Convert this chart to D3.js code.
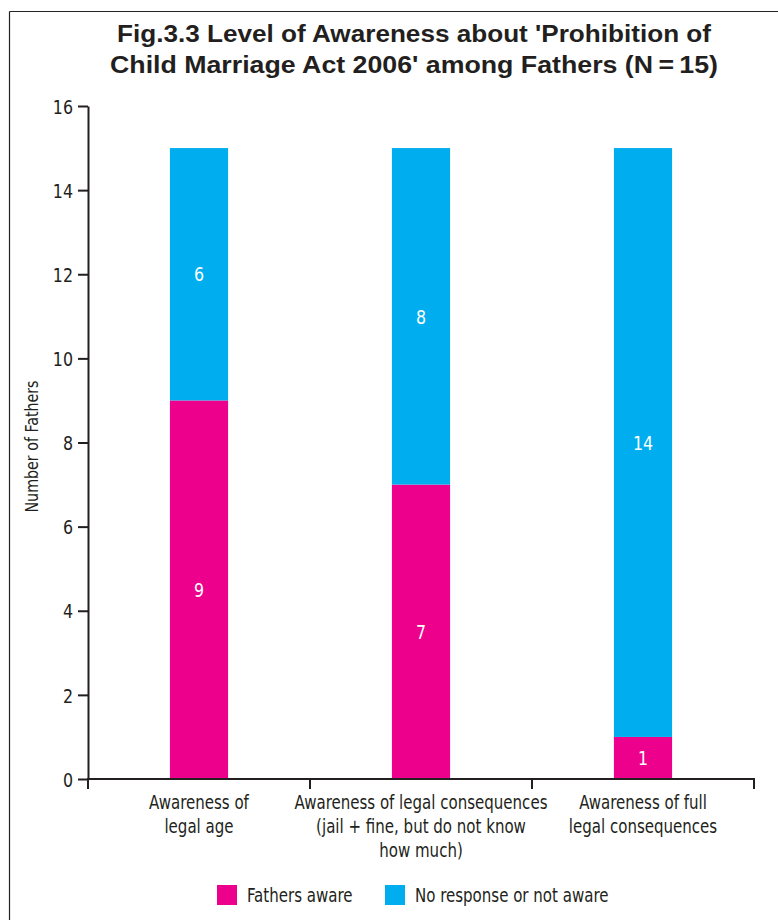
<!DOCTYPE html>
<html>
<head>
<meta charset="utf-8">
<script src="https://cdn.jsdelivr.net/npm/d3@7"></script>
<style>
  html, body { margin: 0; padding: 0; background: #fff; }
  svg { display: block; }
</style>
</head>
<body>
<svg id="chart" width="778" height="920"></svg>
<script>
const titleLines = ["Fig.3.3 Level of Awareness about 'Prohibition of", "Child Marriage Act 2006' among Fathers (N\u2009=\u200915)"];
const categories = ["legal_age", "legal_cons", "full_cons"];
const categoryLabels = [
  ["Awareness of", "legal age"],
  ["Awareness of legal consequences", "(jail + fine, but do not know", "how much)"],
  ["Awareness of full", "legal consequences"]
];
const seriesNames = ["Fathers aware", "No response or not aware"];
const fathersAware = [9, 7, 1];
const notAware = [6, 8, 14];
const yTicks = [0, 2, 4, 6, 8, 10, 12, 14, 16];
const yLabel = "Number of Fathers";
const colors = ["#EC008C", "#00AEEF"];

const NARROW = "'DejaVu Sans Condensed', 'Liberation Sans Narrow', Roboto, sans-serif";
const SX = 0.88;
const INK = "#231F20";

const svg = d3.select("#chart");
const margin = {left: 88, right: 24, top: 106, bottom: 141};
const W = 778, H = 920;

// condensed text helper: anchor point (x,y), horizontally compressed
function narrowText(parent, px, py, size, lines, opts = {}) {
  const lh = opts.lineHeight || size * 1.25;
  const t = parent.append("text")
    .attr("transform", `translate(${px},${py})${opts.rotate ? ` rotate(${opts.rotate})` : ""} scale(${SX},1)`)
    .attr("font-family", NARROW).attr("font-size", size)
    .attr("text-anchor", opts.anchor || "middle")
    .attr("fill", opts.fill || INK);
  [].concat(lines).forEach((l, i) => {
    t.append("tspan").attr("x", 0).attr("y", i * lh).attr("dy", opts.dy || null).text(l);
  });
  return t;
}

// frame
svg.append("line").attr("x1", 9.5).attr("x2", W).attr("y1", 11.5).attr("y2", 11.5)
  .attr("stroke", "#222").attr("stroke-width", 1.2);
svg.append("line").attr("x1", 9.5).attr("x2", 9.5).attr("y1", 11.5).attr("y2", H)
  .attr("stroke", "#222").attr("stroke-width", 1.2);

// title
const titleWidths = [594, 608];
const titleBase = [42, 73];
titleLines.forEach((t, i) => {
  svg.append("text").attr("text-anchor", "middle")
    .attr("x", 414).attr("y", titleBase[i])
    .attr("font-family", "'Liberation Sans', Arial, sans-serif").attr("font-weight", "bold")
    .attr("font-size", 23.5).attr("fill", INK)
    .attr("textLength", titleWidths[i]).attr("lengthAdjust", "spacingAndGlyphs")
    .text(t);
});

const x = d3.scaleBand().domain(categories).range([margin.left, W - margin.right]);
const y = d3.scaleLinear().domain([0, 16]).range([H - margin.bottom, margin.top]);

const data = categories.map((c, i) => ({cat: c, aware: fathersAware[i], not: notAware[i]}));
const stack = d3.stack().keys(["aware", "not"])(data);

const barW = x.bandwidth() * 0.262;
const g = svg.append("g");
stack.forEach((layer, li) => {
  g.selectAll(null).data(layer).join("rect")
    .attr("x", d => x(d.data.cat) + x.bandwidth() / 2 - barW / 2)
    .attr("width", barW)
    .attr("y", d => y(d[1]))
    .attr("height", d => y(d[0]) - y(d[1]))
    .attr("fill", colors[li]);
  layer.forEach(d => {
    narrowText(g, x(d.data.cat) + x.bandwidth() / 2, (y(d[0]) + y(d[1])) / 2, 20,
      String(d[1] - d[0]), {fill: "#fff", dy: "0.36em"});
  });
});

// y axis
const yAxis = svg.append("g").attr("transform", `translate(${margin.left},0)`)
  .call(d3.axisLeft(y).tickValues(yTicks).tickSize(10).tickSizeOuter(0).tickFormat(""));
yAxis.select(".domain").attr("stroke", INK).attr("stroke-width", 2);
yAxis.selectAll(".tick line").attr("stroke", INK).attr("stroke-width", 2);
yAxis.selectAll(".tick").each(function(d) {
  narrowText(d3.select(this), -15, 0, 20, String(d), {anchor: "end", dy: "0.36em"});
});

// x axis
const xAxisG = svg.append("g").attr("transform", `translate(0,${y(0)})`);
xAxisG.append("line").attr("x1", margin.left - 1).attr("x2", W - margin.right + 1)
  .attr("stroke", INK).attr("stroke-width", 2);
const bounds = categories.map(c => x(c)).concat([x(categories[categories.length - 1]) + x.bandwidth()]);
xAxisG.selectAll(null).data(bounds).join("line")
  .attr("x1", d => d).attr("x2", d => d).attr("y1", 0).attr("y2", 10)
  .attr("stroke", INK).attr("stroke-width", 2);

categories.forEach((c, i) => {
  narrowText(svg, x(c) + x.bandwidth() / 2, 809, 19, categoryLabels[i], {lineHeight: 24});
});

// y label
narrowText(svg, 38, (y(0) + y(16)) / 2 + 4, 18, yLabel, {rotate: -90});

// legend
const legendX = [217, 385];
seriesNames.forEach((s, i) => {
  svg.append("rect").attr("x", legendX[i]).attr("y", 885).attr("width", 20).attr("height", 20).attr("fill", colors[i]);
  narrowText(svg, legendX[i] + 30, 902, 19, s, {anchor: "start"});
});
</script>
</body>
</html>
